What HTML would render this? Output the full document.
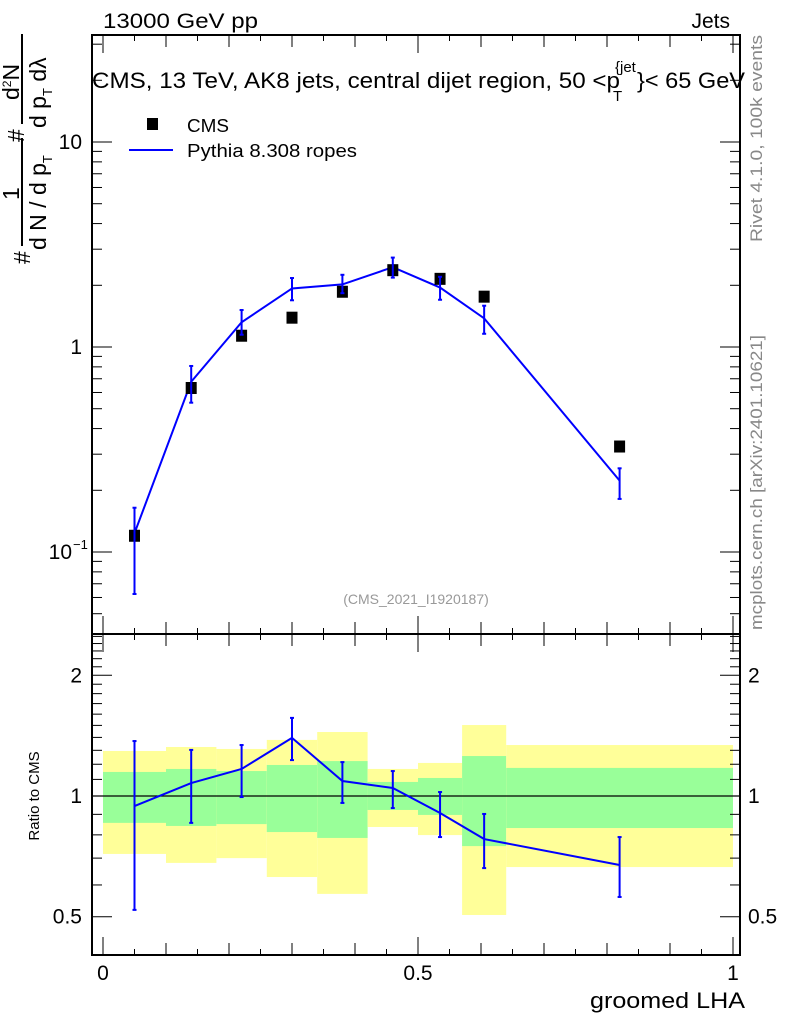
<!DOCTYPE html>
<html><head><meta charset="utf-8">
<style>
body{margin:0;background:#fff;}
svg{display:block;font-family:"Liberation Sans",sans-serif;}
</style></head>
<body>
<svg id="chart" width="786" height="1024" viewBox="0 0 786 1024" xmlns="http://www.w3.org/2000/svg">
<g id="bands"></g>
<g id="ticks" stroke="#000" stroke-width="1"></g>
<line x1="92" y1="796" x2="740" y2="796" stroke="#000" stroke-width="1.2"/>
<g id="marks"></g>
<rect x="92" y="35" width="648" height="599" fill="none" stroke="#000" stroke-width="2"/>
<rect x="92" y="634" width="648" height="321" fill="none" stroke="#000" stroke-width="2"/>
<text x="103" y="28" font-size="21" textLength="155" lengthAdjust="spacingAndGlyphs">13000 GeV pp</text>
<text x="730" y="28" font-size="21" text-anchor="end">Jets</text>
<text x="92" y="88" font-size="22" textLength="528" lengthAdjust="spacingAndGlyphs">CMS, 13 TeV, AK8 jets, central dijet region, 50 &lt;p</text>
<text x="615" y="72" font-size="15">{jet</text>
<text x="613" y="101" font-size="15">T</text>
<text x="637" y="88" font-size="22" textLength="108" lengthAdjust="spacingAndGlyphs">}&lt; 65 GeV</text>
<rect x="147" y="118" width="11" height="12" fill="#000"/>
<text x="187" y="132" font-size="18" textLength="42" lengthAdjust="spacingAndGlyphs">CMS</text>
<line x1="129" y1="150" x2="173" y2="150" stroke="#0000ff" stroke-width="2"/>
<text x="187" y="157" font-size="18" textLength="170" lengthAdjust="spacingAndGlyphs">Pythia 8.308 ropes</text>
<text x="416" y="604" font-size="14" fill="#999" text-anchor="middle">(CMS_2021_I1920187)</text>
<text transform="translate(762,242) rotate(-90)" font-size="17" fill="#888" textLength="207" lengthAdjust="spacingAndGlyphs">Rivet 4.1.0,  100k events</text>
<text transform="translate(762,630) rotate(-90)" font-size="17" fill="#888" textLength="295" lengthAdjust="spacingAndGlyphs">mcplots.cern.ch [arXiv:2401.10621]</text>
<text x="745" y="1008" font-size="22" text-anchor="end" textLength="155" lengthAdjust="spacingAndGlyphs">groomed LHA</text>
<text transform="translate(39,796) rotate(-90)" font-size="15" text-anchor="middle">Ratio to CMS</text>
<g font-size="23">
<text transform="translate(30,264) rotate(-90)">#</text>
<line x1="22" y1="246" x2="22" y2="138" stroke="#000" stroke-width="2"/>
<text transform="translate(19,200) rotate(-90)">1</text>
<text transform="translate(46,250) rotate(-90)">d N / d p<tspan font-size="13" dy="6">T</tspan></text>
<text transform="translate(24,142) rotate(-90)">#</text>
<line x1="22" y1="124" x2="22" y2="34" stroke="#000" stroke-width="2"/>
<text transform="translate(19,100) rotate(-90)">d<tspan font-size="12" dy="-8">2</tspan><tspan dy="8">N</tspan></text>
<text transform="translate(46,128) rotate(-90)">d p<tspan font-size="13" dy="6">T</tspan><tspan dy="-6"> d</tspan>λ</text>
</g>
<g id="labels" font-size="21"></g>
</svg>
<script>
const binEdges=[0,0.1,0.18,0.26,0.34,0.42,0.5,0.57,0.64,1.0];
const xCenters=[0.05,0.14,0.22,0.30,0.38,0.46,0.535,0.605,0.82];
const dataVals=[0.120,0.631,1.135,1.39,1.86,2.37,2.15,1.76,0.327];
const mcVals=[0.1234,0.677,1.32,1.93,2.02,2.45,1.95,1.38,0.223];
const mcErrHi=[0.1644,0.808,1.515,2.17,2.25,2.73,2.20,1.59,0.256];
const mcErrLo=[0.0624,0.535,1.148,1.69,1.83,2.18,1.70,1.16,0.1815];
const ratioVals=[0.944,1.077,1.168,1.396,1.090,1.047,0.907,0.781,0.673];
const ratioHi=[1.371,1.303,1.34,1.566,1.215,1.154,1.023,0.902,0.79];
const ratioLo=[0.52,0.857,0.994,1.229,0.961,0.933,0.79,0.661,0.56];
const yellowHi=[1.295,1.325,1.31,1.38,1.444,1.168,1.209,1.503,1.34];
const yellowLo=[0.717,0.681,0.70,0.628,0.57,0.837,0.799,0.505,0.665];
const greenHi=[1.148,1.168,1.154,1.195,1.222,1.084,1.109,1.258,1.175];
const greenLo=[0.857,0.842,0.851,0.813,0.786,0.923,0.897,0.75,0.832];
const xTickLabels=["0","0.5","1"];
const NS="http://www.w3.org/2000/svg";
const X=v=>103+630*v;
const Y=v=>347-205*Math.log10(v);
const R=v=>796-401*Math.log10(v);
function mk(tag,attrs,parent){const e=document.createElementNS(NS,tag);for(const k in attrs)e.setAttribute(k,attrs[k]);parent.appendChild(e);return e;}
const bands=document.getElementById('bands'),marks=document.getElementById('marks'),ticks=document.getElementById('ticks'),labels=document.getElementById('labels');
for(let i=0;i<binEdges.length-1;i++){
  const x0=X(binEdges[i]),x1=X(binEdges[i+1]);
  let e=mk('rect',{x:x0,y:R(yellowHi[i]),width:x1-x0,height:R(yellowLo[i])-R(yellowHi[i]),fill:'#ffff99'},bands);
  
  
  e=mk('rect',{x:x0,y:R(greenHi[i]),width:x1-x0,height:R(greenLo[i])-R(greenHi[i]),fill:'#99ff99'},bands);
  
  
}
let p=mk('polyline',{points:xCenters.map((x,i)=>X(x)+','+Y(mcVals[i])).join(' '),fill:'none',stroke:'#0000ff','stroke-width':2},marks);


p=mk('polyline',{points:xCenters.map((x,i)=>X(x)+','+R(ratioVals[i])).join(' '),fill:'none',stroke:'#0000ff','stroke-width':2},marks);


function errbar(x,y1,y2,name){
  const g=mk('g',{stroke:'#0000ff','stroke-width':2},marks);
  
  
  mk('line',{x1:x,y1:y1,x2:x,y2:y2},g);
  mk('line',{x1:x-2,y1:y1,x2:x+2,y2:y1},g);
  mk('line',{x1:x-2,y1:y2,x2:x+2,y2:y2},g);
}
xCenters.forEach((x,i)=>{
  const r=mk('rect',{x:X(x)-5.5,y:Y(dataVals[i])-6,width:11,height:12,fill:'#000'},marks);
  
  
  errbar(X(x),Y(mcErrHi[i]),Y(mcErrLo[i]),'mc-error-bar');
  errbar(X(x),R(ratioHi[i]),R(ratioLo[i]),'ratio-error-bar');
});
function tk(x1,y1,x2,y2){mk('line',{x1,y1,x2,y2},ticks);}
for(let k=0;k<=20;k++){
  const v=k*0.05,x=X(v);
  const L=(k%10==0)?18:(k%2==0?12:6);
  tk(x,35,x,35+L);tk(x,634,x,634-L);tk(x,634,x,634+L);tk(x,955,x,955-L);
}
for(let d=-2;d<=1;d++){for(let m=1;m<=9;m++){
  const v=m*Math.pow(10,d),y=Y(v);if(y<35||y>634)continue;
  const L=m==1?20:10;tk(92,y,92+L,y);tk(740,y,740-L,y);
}}
[0.5,0.6,0.7,0.8,0.9,1,1.1,1.2,1.3,1.4,1.5,1.6,1.7,1.8,1.9,2,2.1,2.2,2.3,2.4,2.5].forEach(v=>{
  const y=R(v);if(y<634||y>955)return;
  const L=(v==0.5||v==1||v==2)?20:10;tk(92,y,92+L,y);tk(740,y,740-L,y);
});
function lab(x,y,t,anchor,name){const e=mk('text',{x,y,'text-anchor':anchor},labels);e.textContent=t;
  
  return e;}
lab(82,Y(10)+7,'10','end','y-tick-10');
lab(82,Y(1)+7,'1','end','y-tick-1');
lab(72,Y(0.1)+7,'10','end','y-tick-0.1');
const s=mk('text',{x:73,y:Y(0.1)-3,'font-size':13},labels);s.textContent='−1';
[[2,'2'],[1,'1'],[0.5,'0.5']].forEach(([v,txt])=>{
  lab(82,R(v)+7,txt,'end','ratio-tick-left');
  lab(748,R(v)+7,txt,'start','ratio-tick-right');
});
[0,0.5,1].forEach((v,i)=>lab(X(v),980,xTickLabels[i],'middle','x-tick-label'));
</script>
</body></html>
